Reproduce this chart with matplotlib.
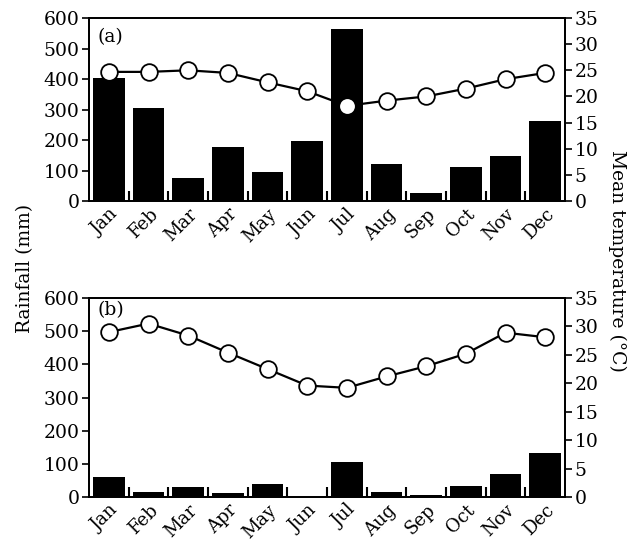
import numpy as np
import matplotlib
matplotlib.use('Agg')
from matplotlib import pyplot as plt

months = ['Jan', 'Feb', 'Mar', 'Apr', 'May', 'Jun', 'Jul', 'Aug', 'Sep', 'Oct', 'Nov', 'Dec']

# panel (a)
rain_a = [402, 304, 76, 177, 96, 197, 563, 121, 26, 112, 147, 262]
temp_a = [24.7, 24.7, 25.0, 24.5, 22.7, 21.0, 18.2, 19.2, 20.0, 21.5, 23.3, 24.5]

# panel (b)
rain_b = [61, 16, 29, 11, 38, 0, 107, 15, 6, 33, 70, 134]
temp_b = [29.0, 30.5, 28.4, 25.4, 22.5, 19.6, 19.2, 21.2, 23.0, 25.2, 28.9, 28.1]

plt.rcParams['font.family'] = 'DejaVu Serif'
plt.rcParams['font.size'] = 13.5

fig = plt.figure(figsize=(6.34, 5.43), dpi=100)

x = np.arange(len(months))


def panel(rect, rain, temp, tag, tag_y):
    ax = fig.add_axes(rect)
    ax.bar(x, rain, width=0.8, color='black', zorder=1)
    ax.set_xlim(-0.5, 11.5)
    ax.set_ylim(0, 600)
    ax.set_yticks(range(0, 601, 100))
    ax.set_xticks(x)
    ax.set_xticklabels(months, rotation=45, ha='right', rotation_mode='anchor', fontsize=13)
    ax.set_xticks(x[:-1] + 0.5, minor=True)
    ax.tick_params(axis='x', which='major', length=0, pad=3)
    ax.tick_params(axis='x', which='minor', direction='in', length=7, width=1.5)
    ax.tick_params(axis='y', direction='out', length=5, width=1.2, pad=2)
    for s in ax.spines.values():
        s.set_linewidth(1.3)
    ax.text(0.017, tag_y, tag, transform=ax.transAxes, ha='left', va='top', fontsize=13.5)

    ax2 = ax.twinx()
    ax2.plot(x, temp, color='black', lw=1.6, marker='o', ms=12,
             mfc='white', mec='black', mew=1.3, zorder=3)
    ax2.set_ylim(0, 35)
    ax2.set_yticks(range(0, 36, 5))
    ax2.tick_params(axis='y', direction='out', length=5, width=1.2, pad=2)
    for s in ax2.spines.values():
        s.set_linewidth(1.3)
    return ax, ax2


panel([0.1404, 0.6298, 0.7508, 0.3370], rain_a, temp_a, '(a)', 0.945)
panel([0.1404, 0.0847, 0.7508, 0.3665], rain_b, temp_b, '(b)', 0.985)

fig.text(0.04, 0.505, 'Rainfall (mm)', rotation=90, ha='center', va='center', fontsize=13.5)
fig.text(0.973, 0.52, 'Mean temperature (°C)', rotation=270, ha='center', va='center', fontsize=13.5)

fig.savefig('out.png', dpi=100)
